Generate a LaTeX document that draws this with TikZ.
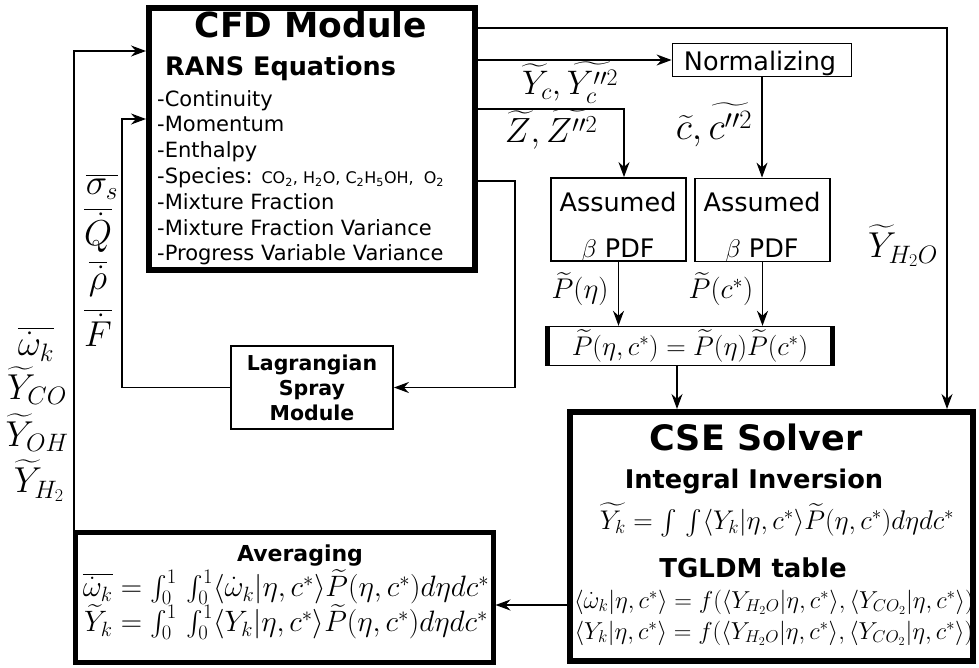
\RequirePackage{fix-cm}
\documentclass[tikz,border=0pt]{standalone}
\usepackage{amsmath}
\usepackage{fontspec}
\setmainfont{DejaVu Sans}
\usetikzlibrary{shapes,arrows.meta,positioning}

\begin{document}
\begin{tikzpicture}[x=1pt, y=-1pt,
        bigbox/.style={rectangle, draw, line width=6pt, inner sep=0pt},
        box/.style={rectangle, draw, line width=1.8pt, inner sep=0pt},
        line/.style={draw, line width=1.6pt, -{Stealth[length=15pt, width=11pt]}},
        title/.style={font=\fontsize{34.5}{40}\selectfont\bfseries, anchor=base, inner sep=0pt},
        subtitle/.style={font=\fontsize{25.5}{30}\selectfont\bfseries, anchor=base, inner sep=0pt},
        entry/.style={font=\fontsize{21}{26}\selectfont, anchor=base west, inner sep=0pt},
        boxtext/.style={font=\fontsize{25.5}{30}\selectfont, anchor=base, inner sep=0pt},
        var/.style={font=\fontsize{34}{40}\selectfont, inner sep=0pt},
        eq/.style={font=\fontsize{24.5}{28}\selectfont, inner sep=0pt}
    ]
        \useasboundingbox (0,0) rectangle (979,667);
        % CFD module
        \node[bigbox, minimum width=326pt, minimum height=262pt] (cfd) at (312,139) {};
        \node[title] (cfdtitle) at (311,37) {CFD Module};
        \node[subtitle, anchor=base west] (rans) at (165,75) {RANS Equations};
        \node[entry] (cont) at (157,106) {-Continuity};
        \node[entry] (mom) at ([yshift=-25.8pt]cont.base west) {-Momentum};
        \node[entry] (enth) at ([yshift=-25.8pt]mom.base west) {-Enthalpy};
        \node[entry] (spec) at ([yshift=-25.8pt]enth.base west) {-Species: {\fontsize{16}{18}\selectfont CO\textsubscript{2}, H\textsubscript{2}O, C\textsubscript{2}H\textsubscript{5}OH,\ \ O\textsubscript{2}}};
        \node[entry] (mix) at ([yshift=-25.8pt]spec.base west) {-Mixture Fraction};
        \node[entry] (mixvar) at ([yshift=-25.8pt]mix.base west) {-Mixture Fraction Variance};
        \node[entry] (progvar) at ([yshift=-25.8pt]mixvar.base west) {-Progress Variable Variance};
        % Normalizing and PDFs
        \node[box, minimum width=179pt, minimum height=33pt] (norm) at (762,60) {};
        \node[boxtext] (normtext) at (760,70) {Normalizing};
        \node[box, minimum width=135pt, minimum height=83pt] (pdfz) at (618.5,219.5) {};
        \node[boxtext] (pdfza) at (618,211) {Assumed};
        \node[boxtext] (pdfzb) at (618,257) {$\beta$ PDF};
        \node[box, minimum width=135pt, minimum height=83pt] (pdfc) at (762.5,220) {};
        \node[boxtext] (pdfca) at (762,211) {Assumed};
        \node[boxtext] (pdfcb) at (762,257) {$\beta$ PDF};
        \node[box, line width=1.4pt, minimum width=284pt, minimum height=39pt] (pbox) at (690,346) {};
        \draw[line width=5pt] (pbox.north west) -- (pbox.south west);
        \draw[line width=5pt] (pbox.north east) -- (pbox.south east);
        \node[eq, font=\fontsize{27}{30}\selectfont] (ptext) at (690,346) {$\widetilde{P}(\eta,c^*)=\widetilde{P}(\eta)\widetilde{P}(c^*)$};
        % Lagrangian spray
        \node[box, minimum width=162pt, minimum height=83pt] (spray) at (312,387.5) {};
        \node[subtitle, font=\fontsize{20.5}{25}\selectfont\bfseries, align=center, anchor=base] (spraytext) at (312,420) {Lagrangian\\Spray\\Module};
        % CSE solver
        \node[bigbox, minimum width=403pt, minimum height=249pt] (cse) at (771.5,536.5) {};
        \node[title, font=\fontsize{35}{40}\selectfont\bfseries] (csetitle) at (756,450) {CSE Solver};
        \node[subtitle, font=\fontsize{25.7}{30}\selectfont\bfseries] (inv) at (754,488) {Integral Inversion};
        \node[eq, font=\fontsize{27}{30}\selectfont] (inveq) at (777,520) {$\widetilde{Y_k}=\int\,\int\langle Y_k|\eta,c^*\rangle\widetilde{P}(\eta,c^*)d\eta dc^*$};
        \node[subtitle, font=\fontsize{26}{30}\selectfont\bfseries] (tgldm) at (753,577) {TGLDM table};
        \node[eq] (tabw) at (774,602) {$\langle\dot{\omega}_k|\eta,c^*\rangle=f(\langle Y_{H_2O}|\eta,c^*\rangle,\langle Y_{CO_2}|\eta,c^*\rangle)$};
        \node[eq] (taby) at (774,633) {$\langle Y_k|\eta,c^*\rangle=f(\langle Y_{H_2O}|\eta,c^*\rangle,\langle Y_{CO_2}|\eta,c^*\rangle)$};
        % Averaging
        \node[bigbox, line width=5pt, minimum width=418pt, minimum height=130pt] (avg) at (284,597) {};
        \node[subtitle, font=\fontsize{22}{26}\selectfont\bfseries] (avgtitle) at (300,561) {Averaging};
        \node[eq, font=\fontsize{29.5}{34}\selectfont] (avgw) at (286,587) {$\overline{\dot{\omega}_k}=\int_0^1\,\int_0^1\langle\dot{\omega}_k|\eta,c^*\rangle\widetilde{P}(\eta,c^*)d\eta dc^*$};
        \node[eq, font=\fontsize{29.5}{34}\selectfont] (avgy) at (286,622) {$\widetilde{Y}_k=\int_0^1\,\int_0^1\langle Y_k|\eta,c^*\rangle\widetilde{P}(\eta,c^*)d\eta dc^*$};
        % Labels
        \node[var] (yclab) at (570,82.5) {$\widetilde{Y}_c,\widetilde{Y_c''^2}$};
        \node[var, font=\fontsize{35}{40}\selectfont] (zlab) at (551,129) {$\widetilde{Z},\widetilde{Z''^2}$};
        \node[var, font=\fontsize{38}{44}\selectfont] (clab) at (714,125) {$\widetilde{c},\widetilde{c''^2}$};
        \node[var, font=\fontsize{36}{40}\selectfont] (h2olab) at (903,246) {$\widetilde{Y}_{H_2O}$};
        \node[var, font=\fontsize{28.5}{32}\selectfont] (petalab) at (580,289) {$\widetilde{P}(\eta)$};
        \node[var, font=\fontsize{28.5}{32}\selectfont] (pclab) at (721,289) {$\widetilde{P}(c^*)$};
        \node[var, font=\fontsize{36}{40}\selectfont] (siglab) at (102,187) {$\overline{\sigma_s}$};
        \node[var, font=\fontsize{36}{40}\selectfont] (qlab) at (98,230) {$\overline{\dot{Q}}$};
        \node[var, font=\fontsize{36}{40}\selectfont] (rholab) at (98,279) {$\overline{\dot{\rho}}$};
        \node[var, font=\fontsize{36}{40}\selectfont] (flab) at (98,328) {$\overline{\dot{F}}$};
        \node[var, font=\fontsize{36}{40}\selectfont] (wlab) at (36,344) {$\overline{\dot{\omega}_k}$};
        \node[var, font=\fontsize{36}{40}\selectfont] (colab) at (37,386) {$\widetilde{Y}_{CO}$};
        \node[var, font=\fontsize{36}{40}\selectfont] (ohlab) at (37,433) {$\widetilde{Y}_{OH}$};
        \node[var, font=\fontsize{36}{40}\selectfont] (h2lab) at (39,481) {$\widetilde{Y}_{H_2}$};
        % Connections
        \coordinate (h2oturn) at (947,28);
        \coordinate (zturn) at (624,109);
        \coordinate (sprayturn) at (515,181);
        \coordinate (srcturn) at (122,119);
        \coordinate (outturn) at (74,51);
        \coordinate (fedback) at (530,605);
        \path[line] (cfd.east |- h2oturn) -- (h2oturn) -- (cse.north -| h2oturn);
        \path[line] (cfd.east |- norm.west) -- (norm.west);
        \path[line] (cfd.east |- zturn) -- (zturn) -- (pdfz.north -| zturn);
        \path[line, line width=1.3pt] (norm.south) -- (pdfc.north -| norm.south);
        \path[line] (cfd.east |- sprayturn) -- (sprayturn) |- (spray.east);
        \path[line, line width=1.3pt] (spray.west) -| (srcturn) -- (cfd.west |- srcturn);
        \path[line, line width=1.3pt] (pdfz.south) -- (pbox.north -| pdfz.south);
        \path[line, line width=1.3pt] (pdfc.south) -- (pbox.north -| pdfc.south);
        \path[line, line width=1.3pt] ([xshift=-13pt]pbox.south) -- ([xshift=-13pt]pbox.south |- cse.north);
        \path[line, line width=1.3pt] (cse.west |- fedback) -- (avg.east |- fedback);
        \path[line] (avg.north -| outturn) -- (outturn) -- (cfd.west |- outturn);
    \end{tikzpicture}
\end{document}
